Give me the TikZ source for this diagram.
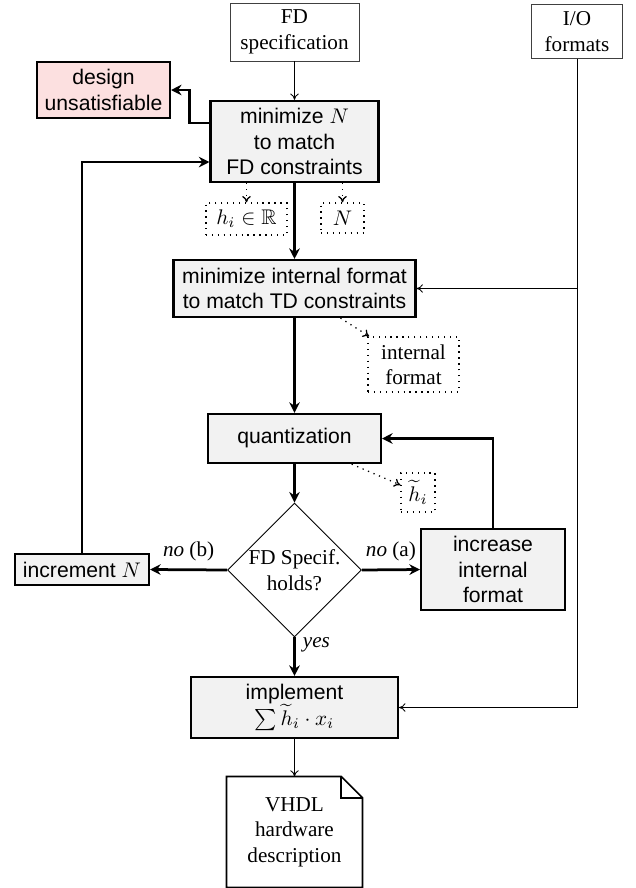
\documentclass[tikz,border=0pt]{standalone}
\usepackage{fontspec}
\setmainfont{Liberation Serif}
\setsansfont{Liberation Sans}
\usepackage{amssymb}
\usetikzlibrary{positioning, arrows.meta, shapes.geometric}
\definecolor{BoxGray}{HTML}{F2F2F2}
\definecolor{FailPink}{HTML}{FCE0E0}

\begin{document}
\begin{tikzpicture}[
        x=0.4725pt, y=-0.4725pt,
        process/.style={
            rectangle, draw=black, line width=1pt, fill=BoxGray,
            align=center, font=\sffamily, inner sep=1pt
        },
        source/.style={rectangle, draw=black!75, thin, fill=white, align=center, inner sep=1pt},
        result/.style={rectangle, draw=black, line width=0.6pt, dash pattern=on 0.6pt off 2.2pt, align=center, inner sep=1pt},
        decision/.style={diamond, draw=black, thin, fill=white, align=center, inner sep=0pt, minimum size=63.3pt},
        flow/.style={line width=1.3pt, -{Stealth[length=5pt, width=5pt]}},
        link/.style={thin, -{To[length=3pt, width=4pt]}},
        datalink/.style={line width=0.6pt, dash pattern=on 0.6pt off 2.2pt, -{To[length=3pt, width=4pt]}}
    ]
    \useasboundingbox (0,0) rectangle (636,888);

    % Inputs
    \node (fdspec) [source, minimum width=61pt, minimum height=27.4pt] at (294.5,32) {FD\\specification};
    \node (io) [source, minimum width=43pt, minimum height=25.5pt] at (577,31.5) {I/O\\formats};

    % Steps
    \node (unsat) [process, fill=FailPink, minimum width=62.8pt, minimum height=26.5pt] at (103.5,90) {design\\unsatisfiable};
    \node (minN) [process, minimum width=79.4pt, minimum height=38.3pt] at (294.5,141.5) {minimize $N$\\to match\\FD constraints};
    \node (minfmt) [process, minimum width=114.3pt, minimum height=26.9pt] at (294.5,288.5) {minimize internal format\\to match TD constraints};
    \node (quant) [process, minimum width=81.7pt, minimum height=23.2pt] at (294.5,438.5) {quantization};
    \node (check) [decision] at (294.5,570) {FD Specif.\\holds?};
    \node (incN) [process, minimum width=63.3pt, minimum height=14.6pt] at (82,569.5) {increment $N$};
    \node (incfmt) [process, minimum width=68pt, minimum height=38.3pt] at (493,569.5) {increase\\internal\\format};
    \node (impl) [process, minimum width=97.8pt, minimum height=28.8pt] at (294.5,707.5) {implement\\$\sum \widetilde{h}_i \cdot x_i$};

    % Intermediate results
    \node (hR) [result, minimum width=38.3pt, minimum height=15.1pt] at (246.5,219) {$h_i \in \mathbb{R}$};
    \node (Nout) [result, minimum width=20.3pt, minimum height=14.2pt] at (342.5,218) {$N$};
    \node (fmtout) [result, minimum width=43pt, minimum height=26pt] at (413.5,364.5) {internal\\format};
    \node (htilde) [result, minimum width=16pt, minimum height=18.4pt] at (418,492.5) {$\widetilde{h}_i$};

    % Output document
    \node (vhdl) [minimum width=63.8pt, minimum height=52pt, align=center] at (294.5,832) {VHDL\\hardware\\description};
    \draw [thick] (vhdl.north west) -- ([xshift=-10pt]vhdl.north east) -- ([yshift=-10pt]vhdl.north east)
        -- (vhdl.south east) -- (vhdl.south west) -- cycle;
    \draw [thick] ([xshift=-10pt]vhdl.north east) |- ([yshift=-10pt]vhdl.north east);

    % Main flow
    \draw [link] (fdspec.south) -- (minN.north);
    \draw [flow] (minN.south) -- (minfmt.north);
    \draw [flow] (minfmt.south) -- (quant.north);
    \draw [flow] (quant.south) -- (check.north);
    \draw [flow] (check.south) -- node[right, pos=0.2]{\textit{yes}} (impl.north);
    \draw [link] (impl.south) -- (vhdl.north);

    % Failure branches
    \draw [flow] ([yshift=8.7pt]minN.west) -- ++(-20,0) |- (unsat.east);
    \draw [flow] (check.west) -- node[above]{\textit{no} (b)} (incN.east);
    \draw [flow] (check.east) -- node[above]{\textit{no} (a)} (incfmt.west);
    \draw [flow] (incN.north) |- ([yshift=-9.7pt]minN.west);
    \draw [flow] (incfmt.north) |- (quant.east);

    % I/O formats
    \draw [link] (io.south) |- (minfmt.east);
    \draw [link] (io.south) |- (impl.east);

    % Results
    \draw [datalink] (minN.south -| hR) -- (hR.north);
    \draw [datalink] (minN.south -| Nout) -- (Nout.north);
    \draw [datalink] ([xshift=21.7pt]minfmt.south) -- (fmtout);
    \draw [datalink] ([xshift=27pt]quant.south) -- (htilde);

\end{tikzpicture}
\end{document}
